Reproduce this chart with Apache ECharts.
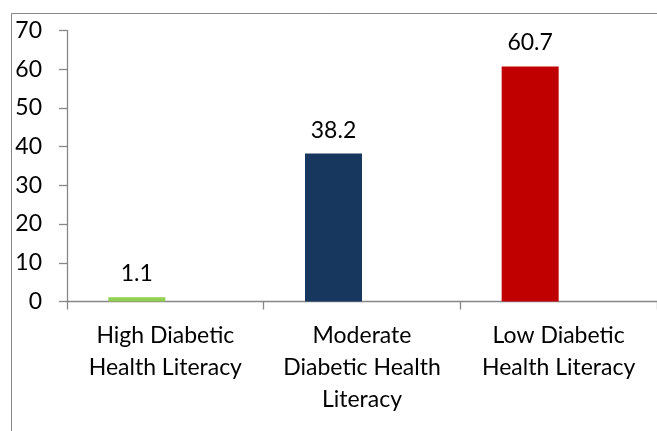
<!DOCTYPE html>
<html>
<head>
<meta charset="utf-8">
<script src="https://cdn.jsdelivr.net/npm/echarts@6/dist/echarts.min.js"></script>
<style>
  html, body { margin: 0; padding: 0; background: #fff; }
  #chart { width: 657px; height: 431px; }
</style>
</head>
<body>
<div id="chart"></div>
<script>
// Share of respondents by diabetic health literacy level (%)
const categories = [
  'High Diabetic\nHealth Literacy',
  'Moderate\nDiabetic Health\nLiteracy',
  'Low Diabetic\nHealth Literacy'
];
const values = [1.1, 38.2, 60.7];
const barColors = ['#92D050', '#17375E', '#C00000'];
const yTicks = { min: 0, max: 70, interval: 10 };

const FONT = 'Lato, "Open Sans", sans-serif';
const AXIS_GRAY = '#878787';

const chart = echarts.init(document.getElementById('chart'), null, { renderer: 'canvas' });

chart.setOption({
  backgroundColor: '#ffffff',
  animation: false,
  graphic: [{
    type: 'rect',
    shape: { x: 11.5, y: 13.5, width: 700, height: 500 },
    style: { fill: 'none', stroke: AXIS_GRAY, lineWidth: 1 },
    silent: true
  }],
  grid: { left: 67, right: -3, top: 30.5, bottom: 129.5, containLabel: false },
  xAxis: {
    type: 'category',
    data: categories,
    axisLine: { show: true, lineStyle: { color: AXIS_GRAY, width: 1.3 } },
    axisTick: { show: true, alignWithLabel: false, length: 8, lineStyle: { color: AXIS_GRAY, width: 1.3 } },
    axisLabel: {
      interval: 0,
      margin: 18,
      color: '#000',
      fontFamily: FONT,
      fontSize: 23,
      lineHeight: 32,
      align: 'center'
    },
    splitLine: { show: false }
  },
  yAxis: {
    type: 'value',
    min: yTicks.min,
    max: yTicks.max,
    interval: yTicks.interval,
    axisLine: { show: true, lineStyle: { color: AXIS_GRAY, width: 1.3 } },
    axisTick: { show: true, length: 8, lineStyle: { color: AXIS_GRAY, width: 1.3 } },
    axisLabel: {
      margin: 25,
      color: '#000',
      fontFamily: FONT,
      fontSize: 23,
      align: 'right'
    },
    splitLine: { show: false }
  },
  series: [
    {
      type: 'bar',
      barWidth: 57,
      barGap: '0%',
      data: values.map((v, i) => ({ value: v, itemStyle: { color: barColors[i] } })),
      label: {
        show: true,
        position: 'top',
        distance: 12,
        color: '#000',
        fontFamily: FONT,
        fontSize: 23,
        formatter: p => p.value.toFixed(1)
      }
    },
    {
      // empty companion series keeps each bar in the left slot of its category
      type: 'bar',
      barWidth: 57,
      data: values.map(() => null)
    }
  ]
});
</script>
</body>
</html>
